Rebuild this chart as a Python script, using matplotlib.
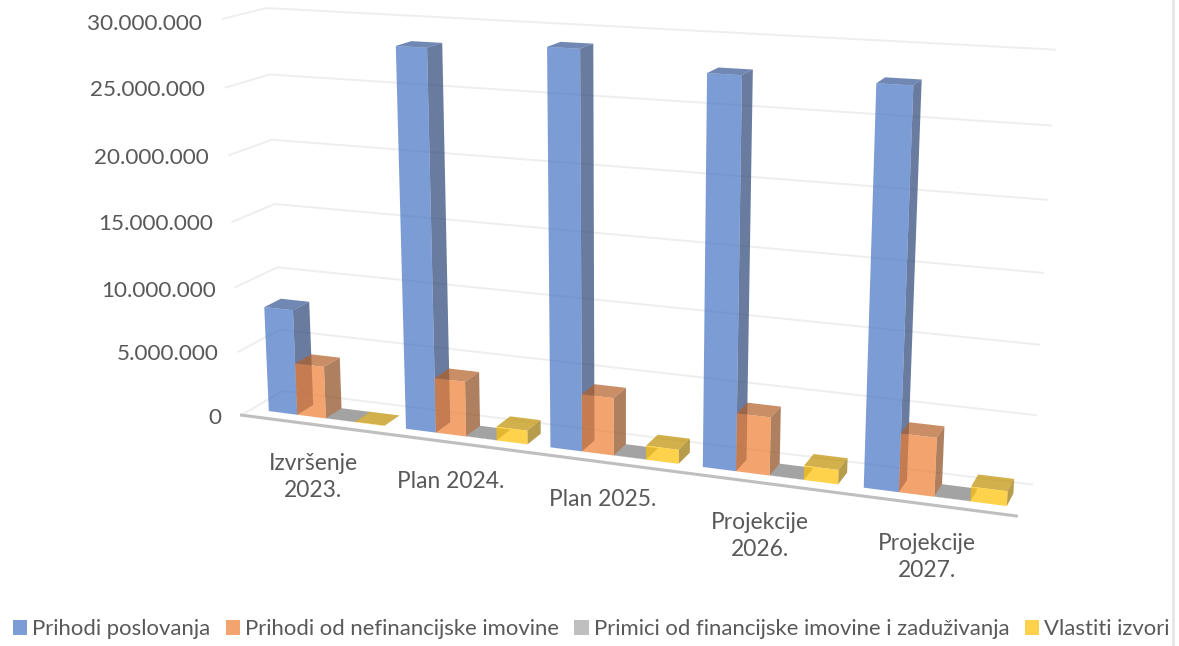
import numpy as np
import matplotlib
matplotlib.use('Agg')
import matplotlib.pyplot as plt
from matplotlib.lines import Line2D
from matplotlib.patches import Patch
from matplotlib.colors import to_rgb

plt.rcParams['font.family'] = ['Lato', 'DejaVu Sans']

# data
categories = ['Izvršenje\n2023.', 'Plan 2024.', 'Plan 2025.', 'Projekcije\n2026.', 'Projekcije\n2027.']
series_names = ['Prihodi poslovanja', 'Prihodi od nefinancijske imovine',
                'Primici od financijske imovine i zaduživanja', 'Vlastiti izvori']
prihodi_poslovanja = [8200000, 28500000, 29050000, 27900000, 27900000]
prihodi_nefinancijska = [4050000, 4200000, 4300000, 4250000, 4200000]
primici_financijska = [20000, 20000, 20000, 20000, 20000]
vlastiti_izvori = [30000, 1050000, 1050000, 1050000, 1050000]
y_ticks = [0, 5000000, 10000000, 15000000, 20000000, 25000000, 30000000]

colors = ['#4472C4', '#ED7D31', '#A5A5A5', '#FFC000']
TEXT = '#595959'
W, H = 1179, 646
XL, XR = -0.15, 5.05
BAR_W = 0.2175
Y0, DEPTH = 0.25, 0.4

fig = plt.figure(figsize=(W/100, H/100), dpi=100)
ax = fig.add_axes([150.0/W, -67.8/H, 910.9/W, 910.9/H], projection='3d', computed_zorder=False)
ax.set_xlim(XL, XR, view_margin=0)
ax.set_ylim(0, 1, view_margin=0)
ax.set_zlim(0, 30e6, view_margin=0)
ax.view_init(14.1545, -69.4714)
ax.set_proj_type('persp', focal_length=0.4166)
ax.set_box_aspect((9.3971, 1, 4.8353))
ax.set_axis_off()

# walls and floor
for t in y_ticks:
    ax.plot([XL, XL, XR], [0, 1, 1], [t, t, t], color='#eeeeee', lw=1.4, zorder=1)
ax.plot([XL, XR], [0, 0], [0, 0], color='#bfbfbf', lw=2.2, zorder=2)


def face_colors(col):
    r = np.array(to_rgb(col))
    # bottom, top, front, back, left, right - only top, front and right can be seen
    return [(*r, 0), (*(r*0.75), 0.7), (*r, 0.7), (*r, 0), (*r, 0), (*(r*0.6), 0.7)]


# bars, left to right so nearer ones cover the farther ones
all_series = [prihodi_poslovanja, prihodi_nefinancijska, primici_financijska, vlastiti_izvori]
z = 3
for c in range(len(categories)):
    for s, vals in enumerate(all_series):
        ax.bar3d(-0.02 + 1.03*c + s*BAR_W, Y0, 0, BAR_W, DEPTH, vals[c],
                 color=face_colors(colors[s]), shade=False, edgecolor='none', zorder=z)
        z += 1

# y tick labels
tick_px = [(221, 418), (219, 354), (216, 291), (213, 224), (209, 158), (205, 90), (202, 24)]
for t, (px, py) in zip(y_ticks, tick_px):
    fig.text(px/W, 1 - py/H, f'{t:,}'.replace(',', '.'), ha='right', va='center',
             fontsize=16.2, color=TEXT)

# category labels
cat_px = [(313, 477), (451, 481), (603, 500), (760, 536), (927, 557)]
for lab, (px, py) in zip(categories, cat_px):
    fig.text(px/W, 1 - py/H, lab, ha='center', va='center', fontsize=16.4,
             color=TEXT, linespacing=1.4)

handles = [Patch(facecolor=c, alpha=0.7, edgecolor='none') for c in colors]
fig.legend(handles, series_names, loc='center', bbox_to_anchor=(591/W, 1 - 629/H), ncol=4,
           frameon=False, fontsize=15.95, labelcolor=TEXT, handlelength=0.65, handleheight=0.65,
           handletextpad=0.22, columnspacing=0.7, borderpad=0)

# page edge on the right
fig.add_artist(Line2D([1173/W, 1173/W], [0, 1], color='#e6e6e6', lw=2))

fig.savefig('out.png', dpi=100)
